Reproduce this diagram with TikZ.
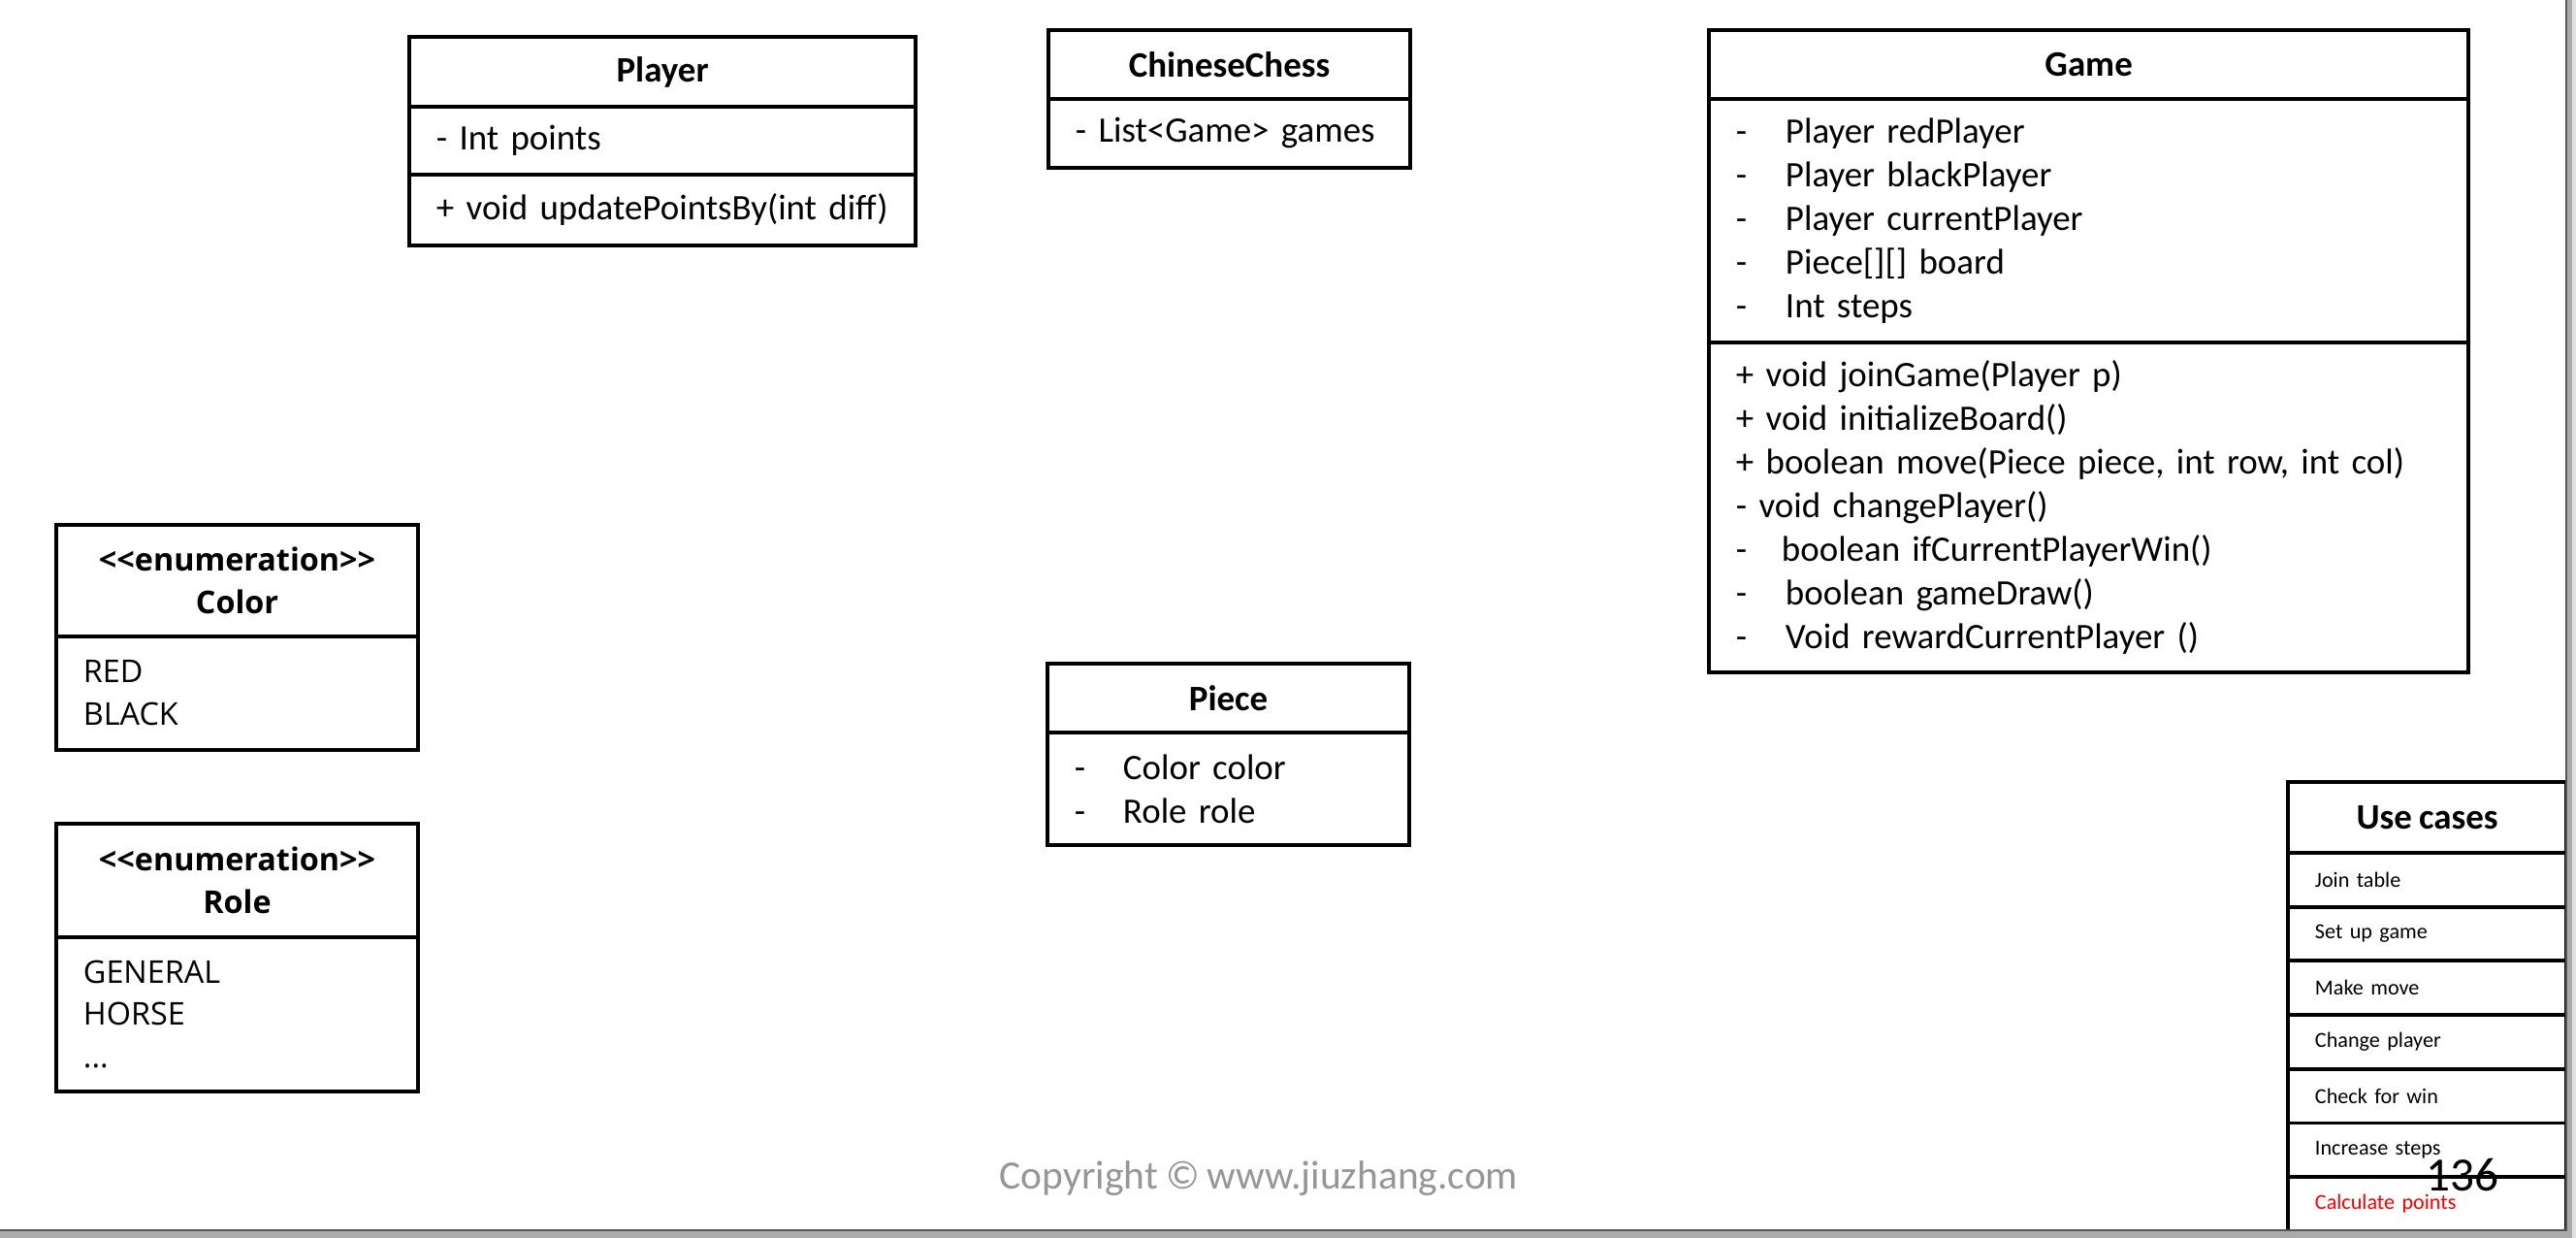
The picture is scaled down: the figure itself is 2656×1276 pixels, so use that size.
\documentclass[tikz,border=0pt]{standalone}
\usepackage{fontspec}
\setmainfont{Carlito}[WordSpace=0.85]
\newfontfamily\enumfont{Open Sans}
\definecolor{copygray}{RGB}{150,150,150}
\definecolor{framegray}{RGB}{171,171,171}
\definecolor{framelight}{RGB}{225,225,225}
\definecolor{edgegray}{RGB}{85,85,85}
\newcommand\dashmem[2][0.51cm]{\makebox[#1][l]{-}#2}
\tikzset{
  part/.style 2 args={draw, line width=1.1pt, anchor=north west, inner xsep=0.28cm,
    inner ysep=0pt, minimum width=#1, minimum height=#2},
  title/.style={font=\fontsize{10.5}{12.8}\selectfont\bfseries},
  members/.style={align=left, text width=#1, font=\fontsize{10.5}{12.8}\selectfont},
  enumtitle/.style={align=center, font=\enumfont\fontsize{9.2}{12.5}\selectfont\bfseries},
  enumvals/.style={align=left, text width=#1, font=\enumfont\fontsize{9.2}{12.5}\selectfont},
  usecase/.style={part={2.87cm}{0.557cm}, align=left, text width=2.31cm,
    font=\fontsize{6.3}{7.5}\selectfont},
}
\begin{document}
\begin{tikzpicture}[x=0.01cm, y=-0.01cm]
    \useasboundingbox (0,0) rectangle (2656,1276);

    % Player
    \node[part={5.22cm}{0.72cm}, title] (playerHead) at (420,36) {Player};
    \node[part={5.22cm}{0.70cm}, members=4.66cm] (playerAttr) at (420,108) {- Int points};
    \node[part={5.22cm}{0.73cm}, members=4.66cm] (playerOps) at (420,178) {+ void updatePointsBy(int diff)};

    % ChineseChess
    \node[part={3.73cm}{0.71cm}, title] (chessHead) at (1079,29) {ChineseChess};
    \node[part={3.73cm}{0.71cm}, members=3.17cm] (chessAttr) at (1079,100) {- List<Game> games};

    % Game
    \node[part={7.83cm}{0.71cm}, title] (gameHead) at (1760,29) {Game};
    \node[part={7.83cm}{2.51cm}, members=7.27cm] (gameAttr) at (1760,100) {%
      \dashmem{Player redPlayer}\\
      \dashmem{Player blackPlayer}\\
      \dashmem{Player currentPlayer}\\
      \dashmem{Piece[][] board}\\
      \dashmem{Int steps}};
    \node[part={7.83cm}{3.40cm}, members=7.27cm] (gameOps) at (1760,351) {%
      + void joinGame(Player p)\\
      + void initializeBoard()\\
      + boolean move(Piece piece, int row, int col)\\
      - void changePlayer()\\
      \dashmem[0.47cm]{boolean ifCurrentPlayerWin()}\\
      \dashmem{boolean gameDraw()}\\
      \dashmem{Void rewardCurrentPlayer ()}};

    % Enumerations
    \node[part={3.73cm}{1.15cm}, enumtitle] (colorHead) at (56,539)
      {<\kern0pt<enumeration>\kern0pt>\\Color};
    \node[part={3.73cm}{1.17cm}, enumvals=3.17cm] (colorVals) at (56,654) {RED\\BLACK};
    \node[part={3.73cm}{1.17cm}, enumtitle] (roleHead) at (56,847)
      {<\kern0pt<enumeration>\kern0pt>\\Role};
    \node[part={3.73cm}{1.59cm}, enumvals=3.17cm] (roleVals) at (56,964) {GENERAL\\HORSE\\...};

    % Piece
    \node[part={3.73cm}{0.71cm}, title] (pieceHead) at (1078,682) {Piece};
    \node[part={3.73cm}{1.16cm}, members=3.17cm] (pieceAttr) at (1078,753) {%
      \dashmem[0.50cm]{Color color}\\
      \dashmem[0.50cm]{Role role}};

    % Use cases
    \node[part={2.87cm}{0.73cm}, title] (ucHead) at (2357,804) {Use cases};
    \foreach \uc/\ucol [count=\i from 0] in {Join table/black, Set up game/black,
        Make move/black, Change player/black, Check for win/black,
        Increase steps/black, Calculate points/red}
      \node[usecase, text=\ucol] (uc\i) at (2357, 877+55.7*\i) {\uc};

    % Footer
    \node[text=copygray, font=\fontsize{11.8}{14}\selectfont] (copyright) at (1298,1215)
      {Copyright © www.jiuzhang.com};
    \node[font=\fontsize{14}{16}\selectfont] (pageNum) at (2539,1211) {136};

    % Window frame
    \fill[framegray] (2646,0) rectangle (2652,1276);
    \fill[framelight] (2652,0) rectangle (2656,1276);
    \fill[framegray] (0,1268) rectangle (2652,1276);
    \draw[edgegray, line width=0.6pt] (2646,0) -- (2646,1268) -- (0,1268);

\end{tikzpicture}
\end{document}
